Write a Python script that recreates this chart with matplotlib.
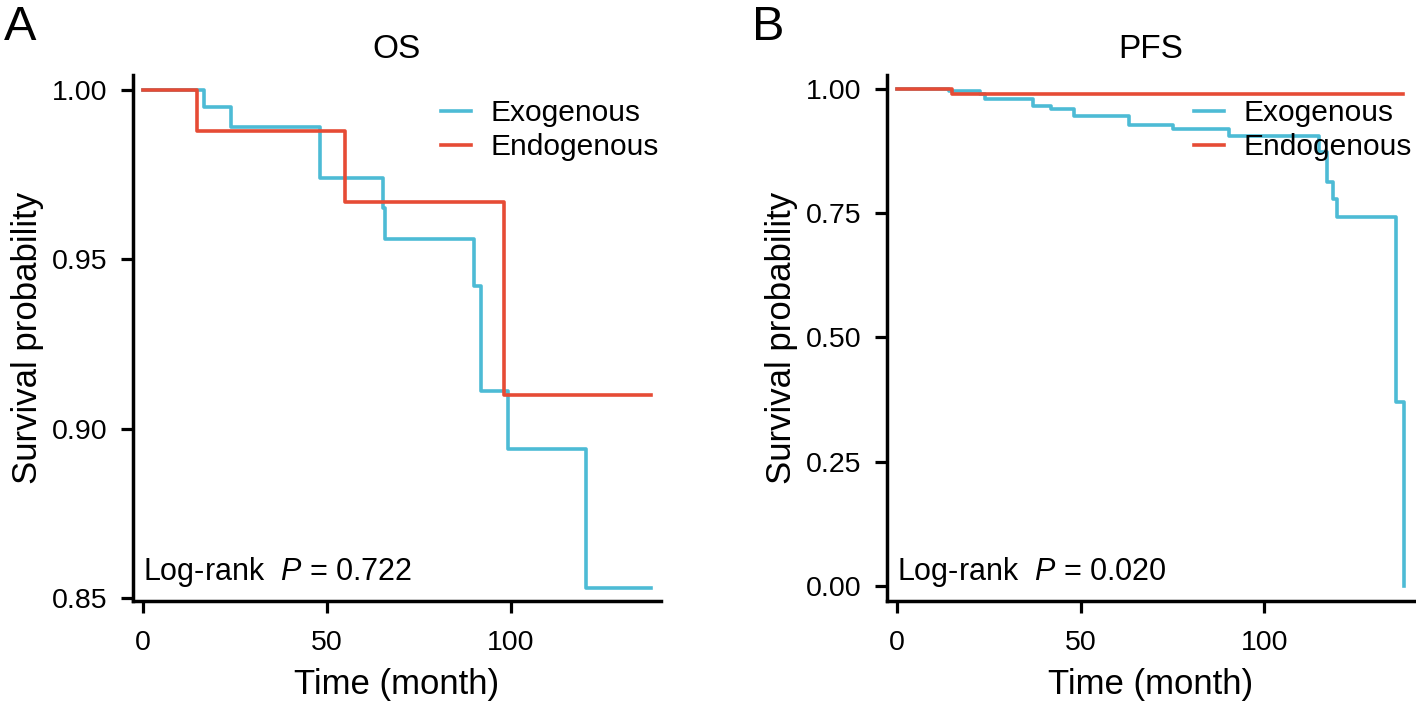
import matplotlib
matplotlib.use('Agg')
import matplotlib.pyplot as plt
from matplotlib.ticker import FormatStrFormatter

plt.rcParams['font.family'] = ['Liberation Sans', 'DejaVu Sans']
plt.rcParams['mathtext.fontset'] = 'custom'
plt.rcParams['mathtext.rm'] = 'Liberation Sans'
plt.rcParams['mathtext.it'] = 'Liberation Sans:italic'

COLOR_EXO = '#4DBBD5'
COLOR_ENDO = '#E64B35'

# --- OS (panel A) ---
os_exo_t = [0, 16.7, 23.9, 48.1, 65.3, 65.9, 90.1, 92.0, 99.1, 120.4, 138.2]
os_exo_s = [1.0, 0.995, 0.989, 0.974, 0.965, 0.956, 0.942, 0.911, 0.894, 0.853, 0.853]
os_endo_t = [0, 14.8, 54.9, 98.1, 138.2]
os_endo_s = [1.0, 0.988, 0.967, 0.910, 0.910]
os_yticks = [0.85, 0.90, 0.95, 1.00]
os_p = '0.722'

# --- PFS (panel B) ---
pfs_exo_t = [0, 14.2, 22.5, 24.0, 37.1, 42.0, 48.2, 63.1, 75.1, 90.3,
             115.0, 117.2, 118.8, 119.8, 135.9, 138.0]
pfs_exo_s = [1.0, 0.995, 0.990, 0.979, 0.966, 0.959, 0.945, 0.928, 0.919, 0.905,
             0.874, 0.812, 0.779, 0.743, 0.371, 0.0]
pfs_endo_t = [0, 15.1, 137.8]
pfs_endo_s = [1.0, 0.989, 0.989]
pfs_yticks = [0.00, 0.25, 0.50, 0.75, 1.00]
pfs_p = '0.020'

xticks = [0, 50, 100]

fig = plt.figure(figsize=(14.16, 7.02), dpi=100)
ax_a = fig.add_axes([0.0939, 0.1439, 0.3729, 0.7493])
ax_b = fig.add_axes([0.6264, 0.1439, 0.3722, 0.7493])


def draw_panel(ax, exo_t, exo_s, endo_t, endo_s, yticks, ylim, title, pval):
    ax.step(exo_t, exo_s, where='post', color=COLOR_EXO, lw=2.6, label='Exogenous')
    ax.step(endo_t, endo_s, where='post', color=COLOR_ENDO, lw=2.6, label='Endogenous')
    ax.set_xlim(-2.7, 140.8)
    ax.set_ylim(*ylim)
    ax.set_xticks(xticks)
    ax.set_yticks(yticks)
    ax.yaxis.set_major_formatter(FormatStrFormatter('%.2f'))
    for side in ['top', 'right']:
        ax.spines[side].set_visible(False)
    for side in ['left', 'bottom']:
        ax.spines[side].set_linewidth(2.5)
    ax.tick_params(axis='both', length=8.6, width=2.3, labelsize=20.5)
    ax.tick_params(axis='x', pad=12)
    ax.tick_params(axis='y', pad=10)
    ax.set_title(title, fontsize=24, pad=12)
    ax.set_xlabel('Time (month)', fontsize=25)
    ax.set_ylabel('Survival probability', fontsize=25)
    ax.yaxis.set_label_coords(-0.1686, 0.5)
    ax.xaxis.set_label_coords(0.5, -0.128)
    ax.text(0, 0.04, 'Log-rank  $\\it{P}$ = ' + pval, transform=ax.get_xaxis_transform(),
            fontsize=22, ha='left', va='baseline')
    ax.legend(loc='upper left', bbox_to_anchor=(0.583, 0.954), frameon=False,
              fontsize=21.5, handlelength=1.0, handletextpad=0.65, labelspacing=0.2,
              borderpad=0, borderaxespad=0)


draw_panel(ax_a, os_exo_t, os_exo_s, os_endo_t, os_endo_s, os_yticks,
           (0.8491, 1.0044), 'OS', os_p)
draw_panel(ax_b, pfs_exo_t, pfs_exo_s, pfs_endo_t, pfs_endo_s, pfs_yticks,
           (-0.030, 1.028), 'PFS', pfs_p)

fig.text(4 / 1416, 1 - 40 / 702, 'A', fontsize=35, ha='left', va='baseline')
fig.text(752 / 1416, 1 - 40 / 702, 'B', fontsize=35, ha='left', va='baseline')

fig.savefig('out.png', dpi=100)
